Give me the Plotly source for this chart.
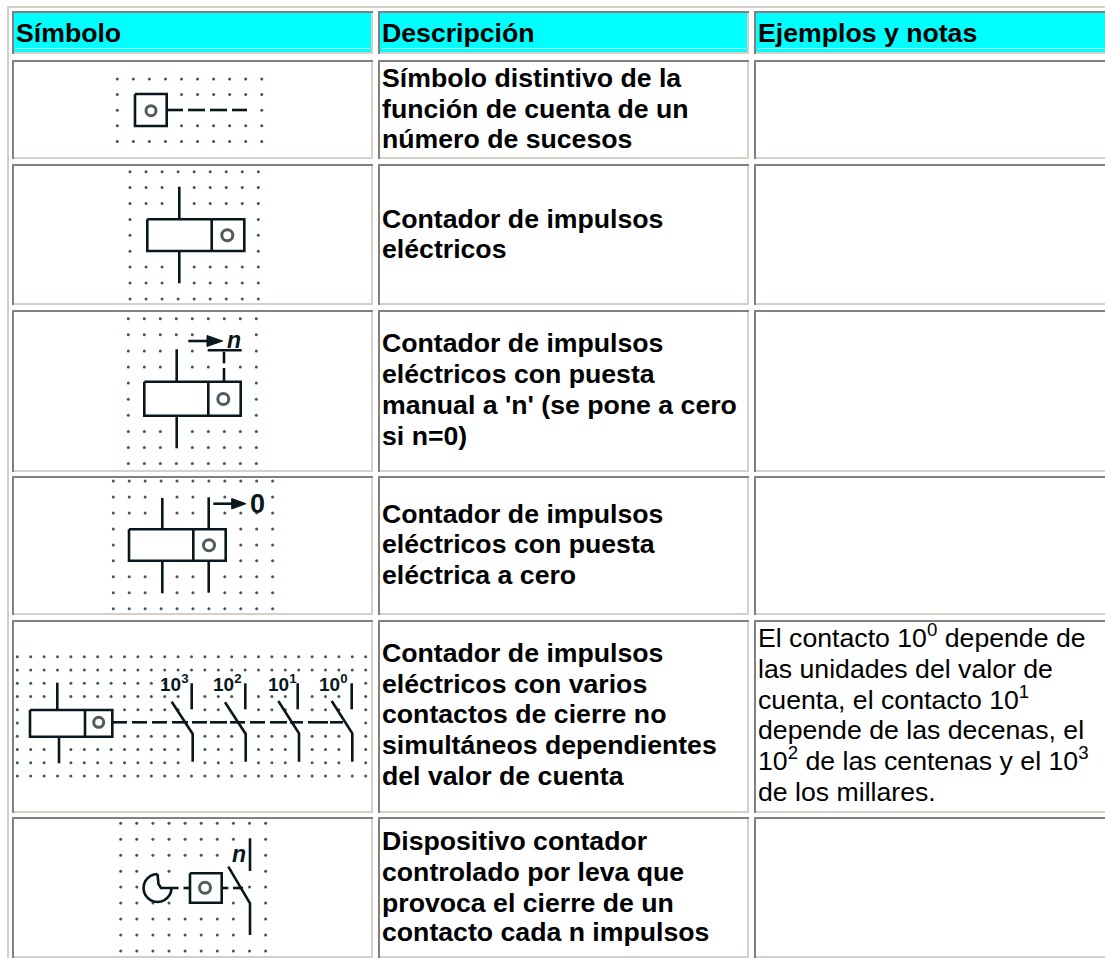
import math
import plotly.graph_objects as go

W, H = 1105, 958
FONT = "Liberation Sans"
FS = 26.67

# ---------- table content ----------
headers = ["Símbolo", "Descripción", "Ejemplos y notas"]
descriptions = [
    ["Símbolo distintivo de la", "función de cuenta de un", "número de sucesos"],
    ["Contador de impulsos", "eléctricos"],
    ["Contador de impulsos", "eléctricos con puesta", "manual a 'n' (se pone a cero", "si n=0)"],
    ["Contador de impulsos", "eléctricos con puesta", "eléctrica a cero"],
    ["Contador de impulsos", "eléctricos con varios", "contactos de cierre no", "simultáneos dependientes", "del valor de cuenta"],
    ["Dispositivo contador", "controlado por leva que", "provoca el cierre de un", "contacto cada n impulsos"],
]
description_baselines = [
    [87.3, 118.3, 148.3],
    [227.7, 258.3],
    [351.7, 383.3, 414.3, 445],
    [523.3, 553.3, 584.3],
    [661.7, 693.3, 723.3, 754, 785],
    [850, 881, 911.7, 941],
]
notes = ["El contacto 10<sup>0</sup> depende de", "las unidades del valor de",
         "cuenta, el contacto 10<sup>1</sup>", "depende de las decenas, el",
         "10<sup>2</sup> de las centenas y el 10<sup>3</sup>", "de los millares."]
# lines holding a superscript have a taller box, so their anchor sits a little higher
note_baselines = [645.5, 678.3, 707.3, 739.5, 768, 801]

columns = [(12, 373), (378, 749), (754, 1110)]
rows = [(11, 54), (60, 159), (164, 305), (310, 472), (476, 615), (620, 813), (817, 958)]

GRAY, LIGHT, CYAN = "#808080", "#d4d0c8", "#00ffff"
INK, DOT = "#08171c", "#3c5860"

# ---------- symbols: dot grids (present columns per grid row) ----------
def span(a, b, skip=()):
    return [i for i in range(a, b + 1) if i not in skip]

grids = [
    dict(x0=117.3, dx=16.05, y0=79, dy=15.6, rows=[
        span(0, 9), [0] + span(4, 9), [0, 9], [0] + span(4, 9), span(0, 9)]),
    dict(x0=130, dx=16.04, y0=171.7, dy=15.9, rows=[
        span(0, 8), span(0, 8, [3]), span(0, 8, [3]), [0, 8], [0, 8], [0, 8],
        span(0, 8, [3]), span(0, 8, [3]), span(0, 8)]),
    dict(x0=128.3, dx=16.0, y0=318.7, dy=16.1, rows=[
        span(0, 8), [0, 1, 2, 3, 4, 8], [0, 1, 2, 4, 8], [0, 1, 2, 4, 5, 7, 8], [0, 8], [0, 8], [0, 8],
        span(0, 8, [3]), span(0, 8, [3]), span(0, 8)]),
    dict(x0=113.3, dx=15.93, y0=481, dy=15.97, rows=[
        span(0, 10), [0, 1, 2, 4, 5, 7, 10], [0, 1, 2, 4, 5, 7, 8, 9, 10], [0, 8, 9, 10], [0, 8, 9, 10], [0, 8, 9, 10],
        span(0, 10, [3, 6]), span(0, 10, [3, 6]), span(0, 10)]),
    dict(x0=17.3, dx=13.4, y0=656.7, dy=13.25, rows=[
        span(0, 26), span(0, 26),
        [0, 1, 2] + span(4, 11) + [26],
        [0, 1, 2] + span(4, 12) + [14, 15, 16, 18, 19, 20, 22, 23, 24, 26],
        [0] + span(8, 12) + [14, 15, 18, 19, 20, 22, 23, 24, 26],
        [0, 26],
        [0] + span(8, 12) + [14, 15, 16, 18, 19, 20, 22, 23, 24, 26],
        [0, 1, 2] + span(4, 12) + [14, 15, 16, 18, 19, 20, 22, 23, 24, 26],
        [0, 1, 2] + span(4, 12) + [14, 15, 16, 18, 19, 20, 22, 23, 24, 26],
        span(0, 26)]),
    dict(x0=120.7, dx=16.1, y0=823.3, dy=15.95, rows=[
        span(0, 9), span(0, 7) + [9], span(0, 6) + [9], [0, 1, 3, 9], [0, 1, 8, 9], [0, 1, 2, 3, 7, 9],
        span(0, 7) + [9], span(0, 7) + [9], span(0, 9)]),
]

# ---------- symbols: strokes ----------
cam_arc = [(157.5 + 14 * math.cos(math.radians(a)), 888 + 14 * math.sin(math.radians(a)))
           for a in range(-90, -361, -15)]
strokes = [
    # symbol 1
    [(135, 94), (166.7, 94), (166.7, 126), (135, 126), (135, 94)],
    [(167, 110), (183, 110)], [(188, 110), (205, 110)], [(210, 110), (227, 110)], [(232, 110), (247, 110)],
    # symbol 2
    [(147.3, 219.3), (244.3, 219.3), (244.3, 251), (147.3, 251), (147.3, 219.3)],
    [(211.7, 219.3), (211.7, 251)], [(179.3, 186.7), (179.3, 219.3)], [(179.3, 251), (179.3, 283.3)],
    # symbol 3
    [(144.3, 381.7), (240.7, 381.7), (240.7, 415.7), (144.3, 415.7), (144.3, 381.7)],
    [(208.3, 381.7), (208.3, 415.7)], [(176.7, 349.3), (176.7, 381.7)], [(176.7, 415.7), (176.7, 448.3)],
    [(224, 351.7), (224, 363.3)], [(224, 368), (224, 381.7)], [(207.7, 350.3), (241.7, 350.3)],
    [(188.3, 341), (210, 341)],
    # symbol 4
    [(129, 529.3), (225.7, 529.3), (225.7, 560.7), (129, 560.7), (129, 529.3)],
    [(193.3, 529.3), (193.3, 560.7)], [(162.3, 498), (162.3, 529.3)], [(162.3, 560.7), (162.3, 593.3)],
    [(208.7, 497.3), (208.7, 529.3)], [(208.7, 560.7), (208.7, 592.7)], [(213.3, 503.7), (234, 503.7)],
    # symbol 5
    [(30, 710), (112.3, 710), (112.3, 736.7), (30, 736.7), (30, 710)],
    [(85, 710), (85, 736.7)], [(57.3, 682.7), (57.3, 710)], [(59, 736.7), (59, 763.3)],
    [(112, 722.3), (127, 722.3)], [(132, 722.3), (147, 722.3)], [(152, 722.3), (167, 722.3)],
    [(172, 722.3), (188, 722.3)], [(192, 722.3), (207, 722.3)], [(210, 722.3), (227, 722.3)],
    [(230, 722.3), (245, 722.3)], [(250, 722.3), (265, 722.3)], [(270, 722.3), (287, 722.3)],
    [(290, 722.3), (303, 722.3)], [(308, 722.3), (328, 722.3)], [(330, 722.3), (343, 722.3)],
    [(171.7, 701.7), (192.7, 734), (192.7, 761.7)], [(191.7, 683.3), (191.7, 709.3)],
    [(225, 702.3), (245.7, 734), (245.7, 761.7)], [(245.3, 683.3), (245.3, 709.3)],
    [(278.3, 701), (299, 733.3), (299, 761.7)], [(297.7, 683.3), (297.7, 709.3)],
    [(331.7, 701), (352.3, 733.3), (352.3, 761.7)], [(351.7, 683.3), (351.7, 709.3)],
    # symbol 6
    cam_arc + [(178.5, 888)],
    [(157.5, 874), (158.5, 884), (161, 888), (171.5, 888)],
    [(183.5, 888), (190, 888)],
    [(190, 873.3), (221.7, 873.3), (221.7, 902.7), (190, 902.7), (190, 873.3)],
    [(221.7, 888), (228.3, 888)], [(233, 888), (243, 888)],
    [(228.3, 866.7), (250, 903.3), (250, 935)], [(250, 838.3), (250, 871)],
]

# arrow heads (filled) and index-marker circles
arrow_heads = [
    [(207, 335.5), (222.7, 341), (207, 346.5), (207, 335.5)],
    [(231.7, 498.5), (246, 503.7), (231.7, 509), (231.7, 498.5)],
]
circles = [(151, 110.7, 10), (227.3, 235.3, 11), (223.3, 399, 11), (209, 545.3, 11), (98.7, 722.3, 10), (205, 887.7, 11)]

# symbol labels: text, x, baseline, size
labels = [
    ("<i><b>n</b></i>", 227, 348, 23),
    ("<i><b>n</b></i>", 232, 862, 23),
    ("<b>0</b>", 250, 513, 27),
    ("<b>10<sup>3</sup></b>", 160, 689, 19),
    ("<b>10<sup>2</sup></b>", 213, 689, 19),
    ("<b>10<sup>1</sup></b>", 268, 689, 19),
    ("<b>10<sup>0</sup></b>", 319, 689, 19),
]

# ---------- build ----------
fig = go.Figure()
shapes = []

def rect(x0, y0, x1, y1, color):
    shapes.append(dict(type="rect", x0=x0, y0=y0, x1=x1, y1=y1, fillcolor=color, line_width=0, layer="below"))

# outer table border
rect(7, 6, W + 5, 8, LIGHT)
rect(7, 6, 9, H + 5, LIGHT)

for r, (y0, y1) in enumerate(rows):
    for (x0, x1) in columns:
        rect(x0, y0, x1, y1, GRAY)
        rect(x0 + 2, y0 + 2, x1, y1, LIGHT)
        rect(x0 + 2, y0 + 2, x1 - 2, y1 - 2, CYAN if r == 0 else "#ffffff")
        if r == 0:
            rect(x0 + 3, 48, x1 - 3, 49, "#b0ffff")

for g in grids:
    xs, ys = [], []
    for j, cols in enumerate(g["rows"]):
        for c in cols:
            xs.append(g["x0"] + c * g["dx"])
            ys.append(g["y0"] + j * g["dy"])
    fig.add_trace(go.Scatter(x=xs, y=ys, mode="markers", hoverinfo="skip",
                             marker=dict(size=3, color=DOT, line_width=0)))

for s in strokes:
    fig.add_trace(go.Scatter(x=[p[0] for p in s], y=[p[1] for p in s], mode="lines", hoverinfo="skip",
                             line=dict(color=INK, width=2.6)))

for a in arrow_heads:
    fig.add_trace(go.Scatter(x=[p[0] for p in a], y=[p[1] for p in a], mode="lines", fill="toself",
                             fillcolor=INK, hoverinfo="skip", line=dict(color=INK, width=1)))

fig.add_trace(go.Scatter(x=[c[0] for c in circles], y=[c[1] for c in circles], mode="markers", hoverinfo="skip",
                         marker=dict(size=[c[2] for c in circles], color="rgba(0,0,0,0)",
                                     line=dict(color=INK, width=3))))

anns = []

def text(t, x, baseline, size=FS, color="#000000"):
    # vertical middle of a single line box sits about 0.34 em above the baseline
    anns.append(dict(text=t, x=x, y=baseline - 0.34 * size, xref="x", yref="y", xanchor="left", yanchor="middle",
                     showarrow=False, align="left", font=dict(family=FONT, size=size, color=color),
                     borderpad=0, borderwidth=0))

for (x0, _), h in zip(columns, headers):
    text(f"<b>{h}</b>", x0 + 4, 41.7)

for lines, bases in zip(descriptions, description_baselines):
    for line, b in zip(lines, bases):
        text(f"<b>{line}</b>", 382, b)

for line, b in zip(notes, note_baselines):
    text(line, 758, b)

for t, x, b, size in labels:
    text(t, x, b, size, INK)

fig.update_layout(
    width=W, height=H, autosize=False, showlegend=False,
    margin=dict(l=0, r=0, t=0, b=0), paper_bgcolor="#ffffff", plot_bgcolor="#ffffff",
    xaxis=dict(range=[0, W], visible=False, fixedrange=True),
    yaxis=dict(range=[H, 0], visible=False, fixedrange=True),
    shapes=shapes, annotations=anns,
)
fig.write_html("out.html", config=dict(displayModeBar=False),
               post_script="document.body.style.margin='0';document.body.style.overflow='hidden';")
